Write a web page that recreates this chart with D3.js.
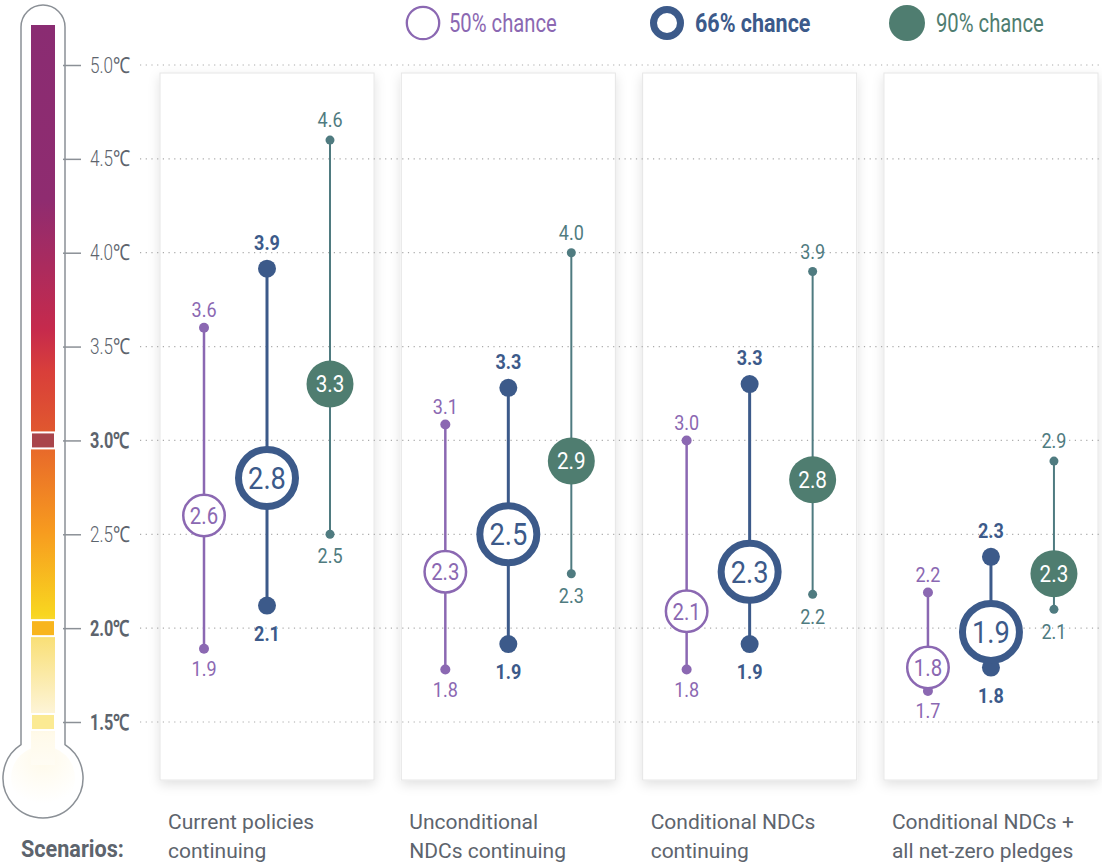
<!DOCTYPE html>
<html>
<head>
<meta charset="utf-8">
<script src="https://cdn.jsdelivr.net/npm/d3@7"></script>
<style>
  body { margin: 0; background: #fff; }
  svg text { font-family: Roboto, "Open Sans", sans-serif; }
</style>
</head>
<body>
<div id="container"></div>
<script>
// scenarios + series
const scenarios = ["Current policies continuing", "Unconditional NDCs continuing", "Conditional NDCs continuing", "Conditional NDCs + all net-zero pledges"];
const scenarioLines = [["Current policies", "continuing"], ["Unconditional", "NDCs continuing"], ["Conditional NDCs", "continuing"], ["Conditional NDCs +", "all net-zero pledges"]];
const series = ["50% chance", "66% chance", "90% chance"];

// estimated positions (°C)
const median50 = [2.60, 2.30, 2.09, 1.79];
const low50    = [1.89, 1.78, 1.78, 1.665];
const high50   = [3.60, 3.085, 3.00, 2.19];
const median66 = [2.80, 2.50, 2.30, 1.98];
const low66    = [2.12, 1.915, 1.915, 1.79];
const high66   = [3.915, 3.28, 3.30, 2.38];
const median90 = [3.30, 2.89, 2.79, 2.29];
const low90    = [2.50, 2.29, 2.18, 2.10];
const high90   = [4.60, 4.00, 3.90, 2.89];

// printed labels
const medianLabel50 = ["2.6", "2.3", "2.1", "1.8"];
const lowLabel50    = ["1.9", "1.8", "1.8", "1.7"];
const highLabel50   = ["3.6", "3.1", "3.0", "2.2"];
const medianLabel66 = ["2.8", "2.5", "2.3", "1.9"];
const lowLabel66    = ["2.1", "1.9", "1.9", "1.8"];
const highLabel66   = ["3.9", "3.3", "3.3", "2.3"];
const medianLabel90 = ["3.3", "2.9", "2.8", "2.3"];
const lowLabel90    = ["2.5", "2.3", "2.2", "2.1"];
const highLabel90   = ["4.6", "4.0", "3.9", "2.9"];

const ticks = [1.5, 2.0, 2.5, 3.0, 3.5, 4.0, 4.5, 5.0];
const boldTicks = [1.5, 2.0, 3.0];

const W = 1102, H = 863;
const colors = {"50% chance": "#8b68b2", "66% chance": "#3c5a8a", "90% chance": "#4f7d70"};
const lineColors = {"50% chance": "#8b68b2", "66% chance": "#3c5a8a", "90% chance": "#4f7b80"};
const grey = "#5d646d";

// squeeze text horizontally (reference font is a condensed face)
function condense(sel, fx, fy, sx) {
  sel.attr("x", 0).attr("y", 0)
    .attr("transform", (d, i) => `translate(${fx(d, i)},${fy(d, i)}) scale(${typeof sx === "function" ? sx(d, i) : sx},1)`);
}

const svg = d3.select("#container").append("svg")
  .attr("width", W).attr("height", H);

const defs = svg.append("defs");
const shadow = defs.append("filter").attr("id", "shadow")
  .attr("x", "-20%").attr("y", "-5%").attr("width", "140%").attr("height", "112%");
shadow.append("feDropShadow").attr("dx", 0).attr("dy", 4).attr("stdDeviation", 6)
  .attr("flood-color", "#000").attr("flood-opacity", 0.12);

const y = d3.scaleLinear().domain([1.5, 5]).range([722, 65]);

const x = d3.scaleBand().domain(scenarios).range([160, 1098]).paddingInner(0.113);
const xs = d3.scalePoint().domain(series).range([44, 170]);

// panels
svg.append("g").selectAll("rect")
  .data(scenarios)
  .join("rect")
    .attr("x", d => x(d)).attr("y", 73)
    .attr("width", x.bandwidth()).attr("height", 707)
    .attr("fill", "#fff")
    .attr("stroke", "#e6e6e6").attr("stroke-width", 1)
    .attr("filter", "url(#shadow)");

// dotted grid
svg.append("g").selectAll("line")
  .data(ticks)
  .join("line")
    .attr("x1", 140).attr("x2", 1100)
    .attr("y1", d => y(d)).attr("y2", d => y(d))
    .attr("stroke", "#aaa").attr("stroke-width", 1.2)
    .attr("stroke-dasharray", "1.2,4.5");

// thermometer
const th = svg.append("g");
const tubeL = 21, tubeR = 65, tubeTop = 5, bulbCx = 43, bulbCy = 778, bulbR = 40;
th.append("path")
  .attr("d", () => {
    const rr = (tubeR - tubeL) / 2;
    const dy = Math.sqrt(bulbR * bulbR - rr * rr);
    return `M${tubeL},${bulbCy - dy} L${tubeL},${tubeTop + rr} A${rr},${rr} 0 0 1 ${tubeR},${tubeTop + rr} L${tubeR},${bulbCy - dy} A${bulbR},${bulbR} 0 1 1 ${tubeL},${bulbCy - dy} Z`;
  })
  .attr("fill", "#fff").attr("stroke", "#8b9096").attr("stroke-width", 1.5);

const grad = defs.append("linearGradient").attr("id", "tgrad")
  .attr("gradientUnits", "userSpaceOnUse")
  .attr("x1", 0).attr("x2", 0).attr("y1", 25).attr("y2", 800);
const stops = [
  [25, "#8a2c72"], [200, "#8f2c70"], [330, "#c62a4c"], [372, "#d93f3a"], [430, "#e0572f"],
  [450, "#e86a2a"], [530, "#f79a1f"], [615, "#f8d620"], [640, "#f9e07a"], [712, "#fdf4d6"],
  [735, "#fffaea"], [800, "#ffffff"]
];
stops.forEach(s => grad.append("stop").attr("offset", (s[0] - 25) / (800 - 25)).attr("stop-color", s[1]));

const bulbFill = defs.append("radialGradient").attr("id", "bgrad")
  .attr("cx", "50%").attr("cy", "20%").attr("r", "70%");
bulbFill.append("stop").attr("offset", 0).attr("stop-color", "#fffaea");
bulbFill.append("stop").attr("offset", 1).attr("stop-color", "#ffffff");
th.append("circle").attr("cx", bulbCx).attr("cy", bulbCy).attr("r", 32).attr("fill", "url(#bgrad)");
th.append("rect").attr("x", 31).attr("y", 25).attr("width", 24).attr("height", 740).attr("fill", "url(#tgrad)");
// marker bands at 3.0 / 2.0 / 1.5
const bands = [[3.0, "#a9454b"], [2.0, "#f8b51d"], [1.5, "#fbea93"]];
th.selectAll("rect.band").data(bands).join("rect").attr("class", "band")
  .attr("x", 31).attr("width", 24)
  .attr("y", d => y(d[0]) - 8).attr("height", 16)
  .attr("fill", d => d[1])
  .attr("stroke", "#fff").attr("stroke-width", 2);

// axis
const yAxis = svg.append("g")
  .attr("transform", "translate(63,0)")
  .call(d3.axisRight(y).tickValues(ticks).tickSize(18).tickPadding(8)
    .tickFormat(d => d.toFixed(1) + "\u2103"));
yAxis.select(".domain").remove();
yAxis.selectAll(".tick line").attr("stroke", "#8b9096").attr("stroke-width", 1.5);
yAxis.selectAll(".tick text")
  .attr("fill", grey)
  .style("font-size", "22px")
  .style("font-family", "Roboto, sans-serif")
  .style("font-weight", d => boldTicks.includes(d) ? "bold" : "300")
  .call(condense, () => 27, () => 0, d => boldTicks.includes(d) ? 0.74 : 0.78);

// ranges
const rows = [];
scenarios.forEach((s, i) => {
  rows.push({s, k: "50% chance", lo: low50[i], hi: high50[i], md: median50[i], loL: lowLabel50[i], hiL: highLabel50[i], mdL: medianLabel50[i]});
  rows.push({s, k: "66% chance", lo: low66[i], hi: high66[i], md: median66[i], loL: lowLabel66[i], hiL: highLabel66[i], mdL: medianLabel66[i]});
  rows.push({s, k: "90% chance", lo: low90[i], hi: high90[i], md: median90[i], loL: lowLabel90[i], hiL: highLabel90[i], mdL: medianLabel90[i]});
});
const style = {
  "50% chance": {lw: 2.5, dot: 5, r: 22, sw: 2.5, fill: "#fff", fs: 24, sx: 0.85, tc: colors["50% chance"], lblOff: 18},
  "66% chance": {lw: 3, dot: 9, r: 32, sw: 7, fill: "#fff", fs: 31, sx: 0.88, tc: colors["66% chance"], lblOff: 26},
  "90% chance": {lw: 2, dot: 4.5, r: 23.5, sw: 0, fill: colors["90% chance"], fs: 23, sx: 0.9, tc: "#fff", lblOff: 20}
};
const cx = d => x(d.s) + xs(d.k);

const g = svg.append("g");
g.selectAll("line.rng").data(rows).join("line").attr("class", "rng")
  .attr("x1", cx).attr("x2", cx)
  .attr("y1", d => y(d.hi)).attr("y2", d => y(d.lo))
  .attr("stroke", d => lineColors[d.k]).attr("stroke-width", d => style[d.k].lw);
g.selectAll("circle.hi").data(rows).join("circle").attr("class", "hi")
  .attr("cx", cx).attr("cy", d => y(d.hi)).attr("r", d => style[d.k].dot)
  .attr("fill", d => lineColors[d.k]);
g.selectAll("circle.lo").data(rows).join("circle").attr("class", "lo")
  .attr("cx", cx).attr("cy", d => y(d.lo)).attr("r", d => style[d.k].dot)
  .attr("fill", d => lineColors[d.k]);
g.selectAll("circle.md").data(rows).join("circle").attr("class", "md")
  .attr("cx", cx).attr("cy", d => y(d.md))
  .attr("r", d => style[d.k].r - style[d.k].sw / 2)
  .attr("fill", d => style[d.k].fill)
  .attr("stroke", d => colors[d.k]).attr("stroke-width", d => style[d.k].sw);
g.selectAll("text.md").data(rows).join("text").attr("class", "md")
  .attr("dy", "0.36em")
  .attr("text-anchor", "middle")
  .attr("fill", d => style[d.k].tc)
  .style("font-size", d => style[d.k].fs + "px")
  .text(d => d.mdL)
  .call(condense, cx, d => y(d.md), d => style[d.k].sx);
g.selectAll("text.hi").data(rows).join("text").attr("class", "hi")
  .attr("dy", "0.36em")
  .attr("text-anchor", "middle")
  .attr("fill", d => d.k === "90% chance" ? lineColors[d.k] : colors[d.k])
  .style("font-size", "20px")
  .style("font-weight", d => d.k === "66% chance" ? "bold" : "normal")
  .text(d => d.hiL)
  .call(condense, cx, d => y(d.hi) - style[d.k].lblOff, 0.9);
g.selectAll("text.lo").data(rows).join("text").attr("class", "lo")
  .attr("dy", "0.36em")
  .attr("text-anchor", "middle")
  .attr("fill", d => d.k === "90% chance" ? lineColors[d.k] : colors[d.k])
  .style("font-size", "20px")
  .style("font-weight", d => d.k === "66% chance" ? "bold" : "normal")
  .text(d => d.loL)
  .call(condense, cx, d => y(d.lo) + style[d.k].lblOff + 2, 0.9);

// legend
const legendX = [423, 667, 907];
const leg = svg.append("g").selectAll("g").data(series).join("g")
  .attr("transform", (d, i) => `translate(${legendX[i]},23)`);
leg.append("circle")
  .attr("r", d => d === "66% chance" ? 13.5 : (d === "50% chance" ? 16.2 : 18))
  .attr("fill", d => d === "90% chance" ? colors[d] : "#fff")
  .attr("stroke", d => colors[d])
  .attr("stroke-width", d => d === "66% chance" ? 7 : (d === "50% chance" ? 2.3 : 0));
leg.append("text")
  .attr("dy", "0.36em")
  .attr("fill", d => colors[d])
  .style("font-size", "25px")
  .style("font-weight", d => d === "66% chance" ? "bold" : "normal")
  .text(d => d)
  .call(condense, d => d === "66% chance" ? 28 : (d === "90% chance" ? 29 : 26), () => 0,
    d => d === "66% chance" ? 0.86 : 0.81);

// scenario labels
const lab = svg.append("g").selectAll("text").data(scenarios).join("text")
  .attr("fill", grey).style("font-size", "21px")
  .call(condense, d => x(d) + 8, () => 829, 1.0);
lab.selectAll("tspan").data((d, i) => scenarioLines[i]).join("tspan")
  .attr("x", 0)
  .attr("dy", (d, j) => j === 0 ? 0 : 29)
  .text(d => d);

svg.append("text")
  .attr("fill", grey).style("font-size", "24px").style("font-weight", "bold")
  .text("Scenarios:")
  .call(condense, () => 21, () => 857, 0.9);
</script>
</body>
</html>
